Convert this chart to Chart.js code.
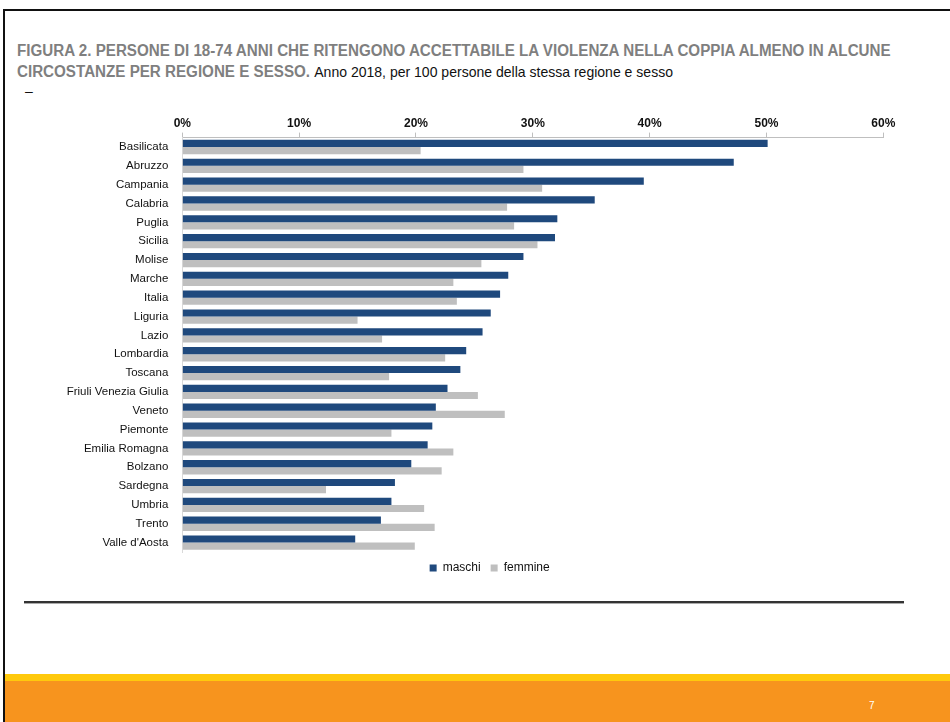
<!DOCTYPE html>
<html>
<head>
<meta charset="utf-8">
<script src="https://cdn.jsdelivr.net/npm/chart.js@4.4.0/dist/chart.umd.min.js"></script>
<style>
  html, body { margin: 0; padding: 0; background: #fff; }
  body { width: 950px; height: 722px; position: relative; overflow: hidden; font-family: "Liberation Sans", Arial, sans-serif; }
  .frameTop { position: absolute; left: 3px; top: 9px; width: 947px; height: 2px; background: #111; }
  .frameLeft { position: absolute; left: 3px; top: 9px; width: 2px; height: 713px; background: #111; }
  .title { position: absolute; left: 17px; top: 40px; width: 960px; font-size: 16px; line-height: 21px; color: #7f7f7f; font-weight: bold; transform: scaleX(0.948); transform-origin: 0 0; white-space: nowrap; }
  .title .sub { color: #111; font-weight: normal; font-size: 14.8px; }
  .dash { position: absolute; left: 25px; top: 83px; font-size: 14px; color: #111; }
  .rule { position: absolute; left: 24px; top: 601px; width: 880px; height: 2px; background: #333; border-bottom: 1px solid #aaa; }
  .yellow { position: absolute; left: 5px; top: 674px; width: 945px; height: 7px; background: #ffc90d; }
  .orange { position: absolute; left: 5px; top: 681px; width: 945px; height: 41px; background: #f7941e; }
  .pageNum { position: absolute; left: 869px; top: 700px; font-size: 10px; color: #fff; }
  #wrap { position: absolute; left: 60px; top: 100px; width: 860px; height: 484px; }
</style>
</head>
<body>
<div class="frameTop"></div>
<div class="frameLeft"></div>
<div class="title">FIGURA 2. PERSONE DI 18-74 ANNI CHE RITENGONO ACCETTABILE LA VIOLENZA NELLA COPPIA ALMENO IN ALCUNE<br>CIRCOSTANZE PER REGIONE E SESSO. <span class="sub">Anno 2018, per 100 persone della stessa regione e sesso</span></div>
<div class="dash">–</div>
<div id="wrap"><canvas id="chart" width="860" height="484"></canvas></div>
<div class="rule"></div>
<div class="yellow"></div>
<div class="orange"></div>
<div class="pageNum">7</div>
<script>
const regions = ['Basilicata', 'Abruzzo', 'Campania', 'Calabria', 'Puglia', 'Sicilia', 'Molise', 'Marche', 'Italia', 'Liguria', 'Lazio',
  'Lombardia', 'Toscana', 'Friuli Venezia Giulia', 'Veneto', 'Piemonte', 'Emilia Romagna', 'Bolzano', 'Sardegna', 'Umbria', 'Trento', "Valle d'Aosta"];

const maschi = [50.1, 47.2, 39.5, 35.3, 32.1, 31.9, 29.2, 27.9, 27.2, 26.4, 25.7,
  24.3, 23.8, 22.7, 21.7, 21.4, 21.0, 19.6, 18.2, 17.9, 17.0, 14.8];
const femmine = [20.4, 29.2, 30.8, 27.8, 28.4, 30.4, 25.6, 23.2, 23.5, 15.0, 17.1,
  22.5, 17.7, 25.3, 27.6, 17.9, 23.2, 22.2, 12.3, 20.7, 21.6, 19.9];

const xTicks = [0, 10, 20, 30, 40, 50, 60];

const fontFamily = '"Liberation Sans", Arial, sans-serif';

// legend in the source sits a bit right of the canvas centre
const legendShift = {
  id: 'legendShift',
  afterLayout(chart) {
    const lg = chart.legend;
    if (!lg) return;
    lg.left += 18;
    lg.right += 18;
  }
};

const ctx = document.getElementById('chart');
new Chart(ctx, {
  type: 'bar',
  data: {
    labels: regions,
    datasets: [
      { label: 'maschi', data: maschi, backgroundColor: '#1f497d', borderWidth: 0 },
      { label: 'femmine', data: femmine, backgroundColor: '#bfbfbf', borderWidth: 0 }
    ]
  },
  options: {
    indexAxis: 'y',
    responsive: false,
    animation: false,
    layout: { padding: { left: 0, right: 36.7, top: 0, bottom: 0 } },
    datasets: { bar: { categoryPercentage: 0.76, barPercentage: 1.0 } },
    plugins: {
      legend: {
        position: 'bottom',
        labels: {
          color: '#111',
          font: { family: fontFamily, size: 12 },
          boxWidth: 7,
          boxHeight: 7,
          padding: 10
        }
      },
      tooltip: { enabled: false }
    },
    scales: {
      x: {
        position: 'top',
        min: 0,
        max: 60,
        afterBuildTicks: (axis) => { axis.ticks = xTicks.map((v) => ({ value: v })); },
        afterFit: (axis) => { axis.height = 37.6; },
        ticks: {
          color: '#111',
          font: { family: fontFamily, size: 12, weight: 'bold' },
          padding: 2,
          callback: (v) => v + '%'
        },
        grid: { drawOnChartArea: false, drawTicks: true, tickLength: 5, color: '#bfbfbf' },
        border: { color: '#bfbfbf' }
      },
      y: {
        afterFit: (axis) => { axis.width = 122.3; },
        ticks: {
          color: '#111',
          font: { family: fontFamily, size: 11.5 },
          padding: 6
        },
        grid: { display: false },
        border: { color: '#d9d9d9' }
      }
    }
  },
  plugins: [legendShift]
});
</script>
</body>
</html>
